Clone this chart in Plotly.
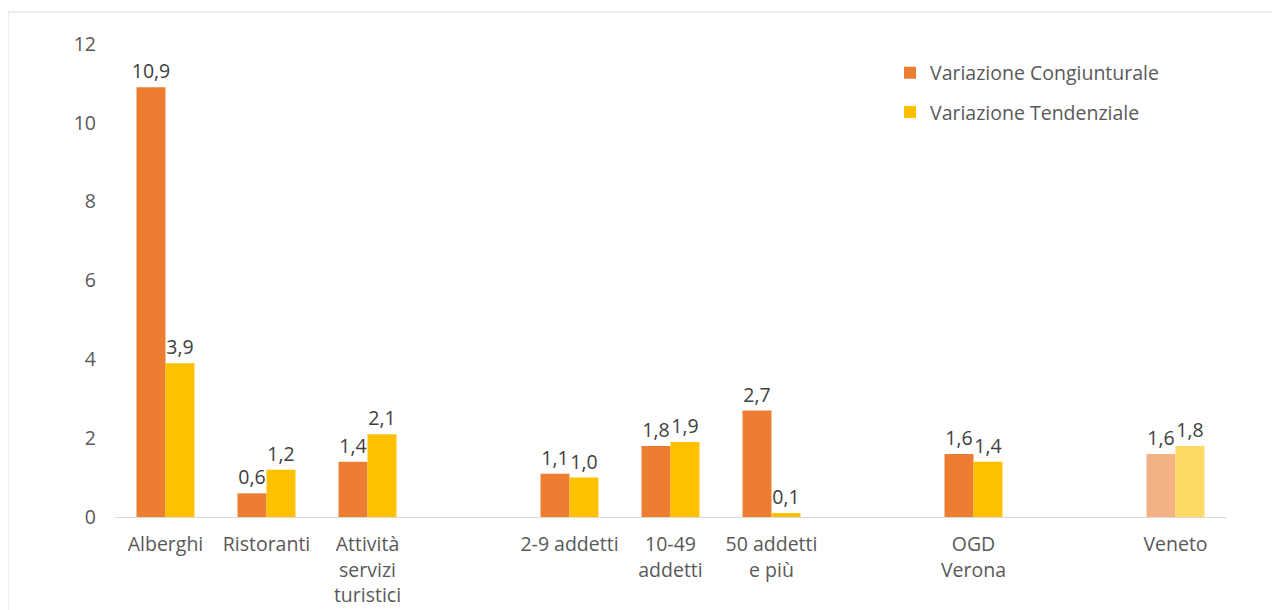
import plotly.graph_objects as go

categories = ["Alberghi", "Ristoranti", "Attività<br>servizi<br>turistici", " ",
              "2-9 addetti", "10-49<br>addetti", "50 addetti<br>e più", "  ",
              "OGD<br>Verona", "   ", "Veneto"]
congiunturale = [10.9, 0.6, 1.4, None, 1.1, 1.8, 2.7, None, 1.6, None, 1.6]
tendenziale = [3.9, 1.2, 2.1, None, 1.0, 1.9, 0.1, None, 1.4, None, 1.8]
series_names = ["Variazione Congiunturale", "Variazione Tendenziale"]

orange, orange_light = "#ED7D31", "#F4B183"
yellow, yellow_light = "#FFC000", "#FFD966"
col_c = [orange_light if c == "Veneto" else orange for c in categories]
col_t = [yellow_light if c == "Veneto" else yellow for c in categories]

FONT = "Open Sans"
FS = 19.5
txt_color = "#404040"
tick_color = "#595959"

fig = go.Figure()
fig.add_trace(go.Bar(x=categories, y=congiunturale, name=series_names[0],
                     marker=dict(color=col_c, line=dict(width=0)),
                     texttemplate="%{y:.1f}", textposition="outside",
                     textfont=dict(color=txt_color, size=FS, family=FONT),
                     constraintext="none",
                     cliponaxis=False, legendgroup="a"))
fig.add_trace(go.Bar(x=categories, y=tendenziale, name=series_names[1],
                     marker=dict(color=col_t, line=dict(width=0)),
                     texttemplate="%{y:.1f}", textposition="outside",
                     textfont=dict(color=txt_color, size=FS, family=FONT),
                     constraintext="none",
                     cliponaxis=False, legendgroup="b"))

L, T, PW, PH = 107, 36, 1111, 473
fig.update_layout(
    width=1280, height=610,
    margin=dict(l=L, r=1280 - L - PW, t=T, b=610 - T - PH, autoexpand=False),
    paper_bgcolor="white", plot_bgcolor="white",
    separators=",.",
    barmode="group", bargap=0.426, bargroupgap=0,
    uniformtext=dict(minsize=FS, mode="show"),
    font=dict(family=FONT, size=FS, color=tick_color),
    showlegend=True,
    legend=dict(x=(882 - L) / PW, y=0.98, xanchor="left", yanchor="top",
                font=dict(size=FS, color=tick_color, family=FONT),
                tracegroupgap=11, bgcolor="rgba(0,0,0,0)"),
    xaxis=dict(type="category", showline=True, linecolor="#D9D9D9", linewidth=1,
               showgrid=False, ticks="", ticklabelstandoff=10, automargin=False,
               tickfont=dict(size=FS, color=tick_color, family=FONT)),
    yaxis=dict(range=[0, 12], dtick=2, showgrid=False, zeroline=False,
               showline=False, ticks="", ticklabelstandoff=18, automargin=False,
               tickfont=dict(size=FS, color=tick_color, family=FONT)),
    shapes=[dict(type="rect", xref="paper", yref="paper",
                 x0=(0 - L) / PW, x1=1.5, y0=-0.5, y1=(T + PH - 4) / PH,
                 line=dict(color="#D9D9D9", width=1), layer="below")],
)

fig.write_html("out.html")
